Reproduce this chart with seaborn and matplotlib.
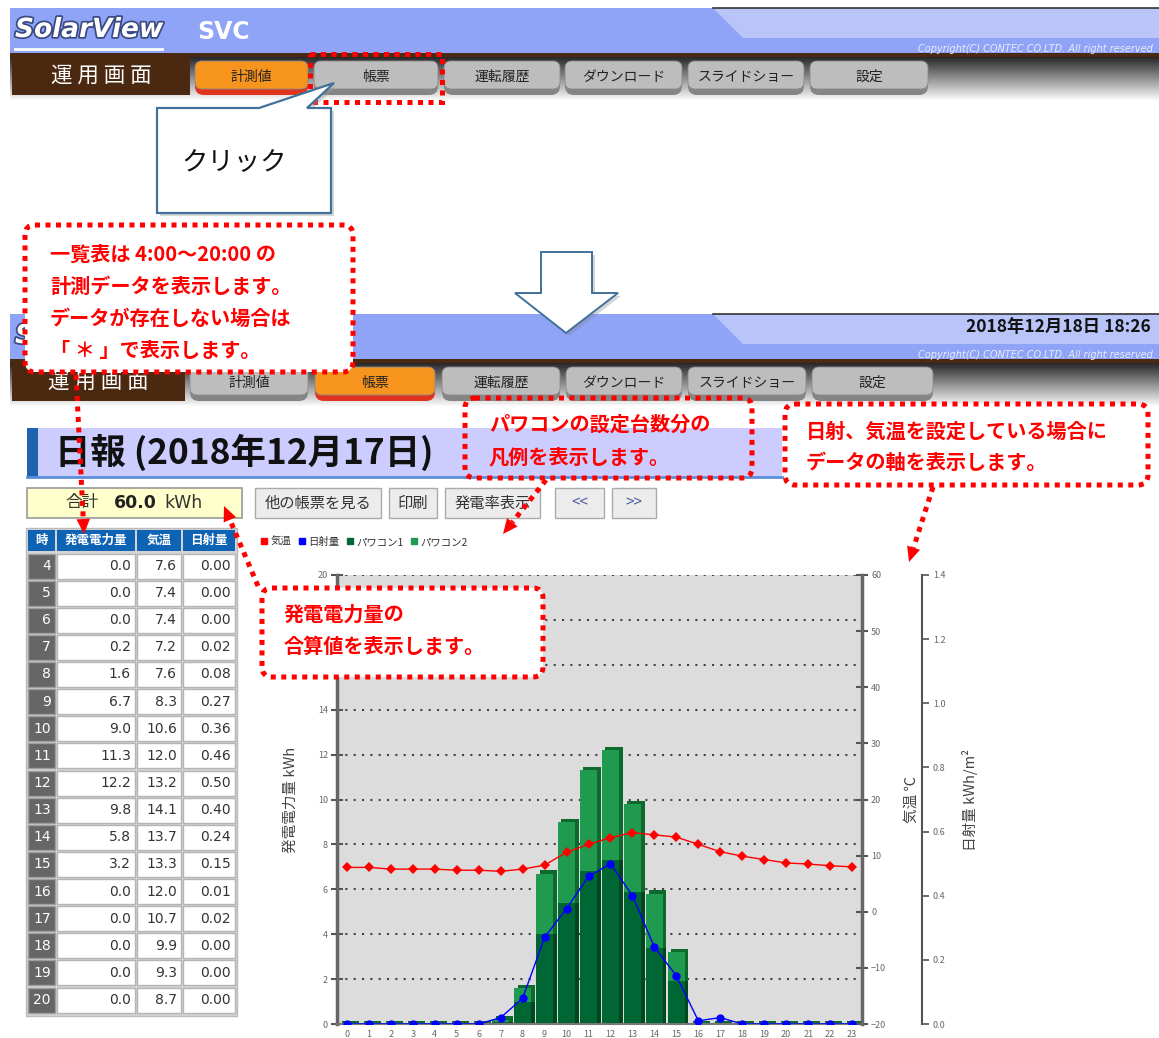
import numpy as np
import pandas as pd
import matplotlib.pyplot as plt
import seaborn as sns
import matplotlib.patheffects as pe
from matplotlib.patches import Rectangle, FancyBboxPatch, Polygon
from matplotlib.lines import Line2D

plt.rcParams['font.family'] = ['Noto Sans CJK JP', 'DejaVu Sans']

# ---- データ (0時〜23時) ----
hours = list(range(24))
power_total = [0.0, 0.0, 0.0, 0.0, 0.0, 0.0, 0.0, 0.2, 1.6, 6.7, 9.0, 11.3,
               12.2, 9.8, 5.8, 3.2, 0.0, 0.0, 0.0, 0.0, 0.0, 0.0, 0.0, 0.0]
power_pc1 = [0.0, 0.0, 0.0, 0.0, 0.0, 0.0, 0.0, 0.1, 1.0, 4.0, 5.4, 6.8,
             7.3, 5.9, 3.4, 1.9, 0.0, 0.0, 0.0, 0.0, 0.0, 0.0, 0.0, 0.0]
temperature = [7.9, 7.9, 7.6, 7.6, 7.6, 7.4, 7.4, 7.2, 7.6, 8.3, 10.6, 12.0,
               13.2, 14.1, 13.7, 13.3, 12.0, 10.7, 9.9, 9.3, 8.7, 8.5, 8.2, 8.0]
irradiance = [0.00, 0.00, 0.00, 0.00, 0.00, 0.00, 0.00, 0.02, 0.08, 0.27, 0.36, 0.46,
              0.50, 0.40, 0.24, 0.15, 0.01, 0.02, 0.00, 0.00, 0.00, 0.00, 0.00, 0.00]
total_kwh = 60.0

# 一覧表は 4:00〜20:00
table_start, table_end = 4, 20

legend_labels = ['気温', '日射量', 'パワコン1', 'パワコン2']
C_TEMP, C_SOLAR, C_PC1, C_PC2 = '#ff0000', '#0000ff', '#006633', '#1f9a4e'

W, H = 1159, 1038
fig = plt.figure(figsize=(W / 100, H / 100), dpi=100)
fig.patch.set_facecolor('white')


def px_axes(x0, y0, x1, y1):
    return [x0 / W, 1 - y1 / H, (x1 - x0) / W, (y1 - y0) / H]


def pixel_layer(z):
    a = fig.add_axes([0, 0, 1, 1], zorder=z)
    a.set_xlim(0, W)
    a.set_ylim(H, 0)
    a.axis('off')
    a.patch.set_visible(False)
    return a


bg = pixel_layer(0)
fg = pixel_layer(10)

# ---- 画面ヘッダー ----
grad = np.linspace(0, 1, 60).reshape(-1, 1)


def header(y0, logo, date_text=None, active=0, tab_x=None, box_x1=190):
    bg.add_patch(Rectangle((10, y0), W - 10, 45, fc='#8fa3f7', ec='none'))
    bg.add_patch(Polygon([(713, y0), (W, y0), (W, y0 + 30), (743, y0 + 30)],
                         fc='#b9c5f8', ec='none'))
    bg.plot([713, W], [y0, y0], color='#333', lw=1.2)
    t = bg.text(15, y0 + 22, logo, color='white', fontsize=19,
                fontweight='bold', style='italic', family='DejaVu Sans', va='center')
    t.set_path_effects([pe.withStroke(linewidth=2.5, foreground='#3a4a80')])
    if logo != 'S':
        bg.plot([15, 162], [y0 + 41, y0 + 41], color='white', lw=2)
        bg.text(197, y0 + 24, 'SVC', color='white', fontsize=17, fontweight='bold',
                family='DejaVu Sans', va='center')
    bg.text(1156, y0 + 41, 'Copyright(C) CONTEC CO.LTD. All right reserved.',
            color='#e8ecff', fontsize=7, style='italic', family='DejaVu Sans',
            ha='right', va='center')
    if date_text:
        bg.text(1151, y0 + 13, date_text, fontsize=12.5, fontweight='bold',
                ha='right', va='center', color='#111')
    # 茶色の帯とグラデーション
    bg.imshow(np.dstack([0.12 + 0.88 * grad] * 3), extent=(10, W, y0 + 93, y0 + 47),
              aspect='auto', zorder=1)
    bg.add_patch(Rectangle((10, y0 + 45), W - 10, 4, fc='#4a2a12', ec='none', zorder=2))
    bg.add_patch(Rectangle((12, y0 + 49), box_x1 - 12, 38, fc='#4b2911', ec='none', zorder=2))
    bg.text((12 + box_x1) / 2, y0 + 68, '運 用 画 面', color='white', fontsize=15.5,
            ha='center', va='center', zorder=3)
    names = ['計測値', '帳票', '運転履歴', 'ダウンロード', 'スライドショー', '設定']
    for i, (nm, (x0, x1)) in enumerate(zip(names, tab_x)):
        on = i == active
        face = '#f7941d' if on else '#bdbdbd'
        low = '#e0321c' if on else '#858585'
        bg.add_patch(FancyBboxPatch((x0 + 2, y0 + 54), x1 - x0 - 4, 33,
                                    boxstyle='round,pad=0,rounding_size=9',
                                    fc=low, ec='none', zorder=2))
        bg.add_patch(FancyBboxPatch((x0 + 2, y0 + 53), x1 - x0 - 4, 28,
                                    boxstyle='round,pad=0,rounding_size=7',
                                    fc=face, ec='#8a8a8a', lw=0.6, zorder=2))
        bg.text((x0 + x1) / 2, y0 + 69, nm, fontsize=10, ha='center', va='center',
                color='#222', zorder=3)


header(8, 'SolarView', active=0,
       tab_x=[(193, 310), (312, 440), (442, 562), (563, 684), (686, 806), (808, 930)])
header(314, 'S', date_text='2018年12月18日 18:26', active=1, box_x1=185,
       tab_x=[(188, 310), (313, 437), (440, 562), (564, 684), (686, 808), (810, 935)])

# ---- タイトル・ボタン ----
bg.add_patch(Rectangle((27, 428), 755, 49, fc='#ccccff', ec='none'))
bg.add_patch(Rectangle((27, 428), 11, 49, fc='#1f63b0', ec='none'))
bg.plot([27, 782], [477, 477], color='#5b8ed6', lw=2)
bg.text(55, 452, '日報 (2018年12月17日)', fontsize=25.5, fontweight='bold', va='center', color='#111')

bg.add_patch(Rectangle((27, 488), 215, 30, fc='#ffffcc', ec='#9a9a9a', lw=1.2))
bg.text(82, 503, '合計', fontsize=12, ha='center', va='center', color='#333')
bg.text(114, 503, f'{total_kwh:.1f}', fontsize=12.5, fontweight='bold', va='center',
        color='#222', family='DejaVu Sans')
bg.text(164, 503, 'kWh', fontsize=12.5, va='center', color='#333', family='DejaVu Sans')
for lab, x0, x1, col in [('他の帳票を見る', 255, 381, '#333'), ('印刷', 389, 437, '#333'),
                         ('発電率表示', 445, 540, '#333'), ('<<', 555, 604, '#5060a0'),
                         ('>>', 612, 656, '#5060a0')]:
    bg.add_patch(Rectangle((x0, 488), x1 - x0, 30, fc='#ececec', ec='#ababab', lw=1))
    bg.text((x0 + x1) / 2, 503, lab, fontsize=11, ha='center', va='center', color=col)

# ---- 一覧表 ----
bg.add_patch(Rectangle((26, 528), 211, 488, fc='#d4d4d4', ec='#bbbbbb', lw=1))
cols = [(28, 55), (57, 135), (137, 181), (183, 235)]
for (x0, x1), lab in zip(cols, ['時', '発電電力量', '気温', '日射量']):
    bg.add_patch(Rectangle((x0, 530), x1 - x0, 21, fc='#0f63b5', ec='none'))
    bg.text((x0 + x1) / 2, 540.5, lab, fontsize=9, fontweight='bold', color='white',
            ha='center', va='center')
for i, hr in enumerate(range(table_start, table_end + 1)):
    yc = 566 + i * 27.125
    vals = [str(hr), f'{power_total[hr]:.1f}', f'{temperature[hr]:.1f}', f'{irradiance[hr]:.2f}']
    for j, ((x0, x1), v) in enumerate(zip(cols, vals)):
        bg.add_patch(Rectangle((x0, yc - 12.5), x1 - x0, 25,
                               fc='#666666' if j == 0 else 'white',
                               ec='#9e9e9e' if j == 0 else '#b5b5b5', lw=1))
        bg.text(x1 - 4, yc, v, fontsize=10, ha='right', va='center',
                color='white' if j == 0 else '#333', family='DejaVu Sans')

# ---- グラフ ----
df = pd.DataFrame({'hour': hours, 'total': power_total, 'pc1': power_pc1,
                   'temp': temperature, 'solar': irradiance})
df['hour_side'] = df['hour'] + 0.16
df['total_top'] = df['total'] + 0.15

ax = fig.add_axes(px_axes(337, 575, 862, 1024), zorder=1)
ax.set_facecolor('#dcdcdc')
bar_kw = dict(native_scale=True, saturation=1, width=0.78, errorbar=None, ax=ax)
sns.barplot(data=df, x='hour_side', y='total_top', color='#0b6a2c', **bar_kw)
sns.barplot(data=df, x='hour', y='total', color=C_PC2, **bar_kw)
sns.barplot(data=df, x='hour_side', y='pc1', color='#00461f', **bar_kw)
sns.barplot(data=df, x='hour', y='pc1', color=C_PC1, **bar_kw)

ax2 = ax.twinx()
ax2.set_zorder(2)
sns.lineplot(data=df, x='hour', y='temp', ax=ax2, color=C_TEMP, lw=1,
             marker='D', markersize=5, markeredgewidth=0)
ax3 = ax.twinx()
ax3.set_zorder(3)
sns.lineplot(data=df, x='hour', y='solar', ax=ax3, color=C_SOLAR, lw=1,
             marker='o', markersize=6, markeredgewidth=0)

ax.set_xlim(-0.45, 23.45)
ax.set_ylim(0, 20)
kwh_ticks = list(range(0, 21, 2))
ax.set_yticks(kwh_ticks)
# 16, 18 は吹き出しに隠れている
ax.set_yticklabels(['' if v in (16, 18) else str(v) for v in kwh_ticks])
ax.set_xticks(hours)
ax.set_xticklabels([str(h) for h in hours])
ax2.set_ylim(-20, 60)
ax2.set_yticks(range(-20, 61, 10))
ax3.set_ylim(0, 1.4)
ax3.set_yticks(np.arange(0, 1.41, 0.2))
ax3.set_yticklabels([f'{v:.1f}' for v in np.arange(0, 1.41, 0.2)])

ax.yaxis.grid(True, linestyle=(0, (1, 3)), color='#444', lw=1.5)
ax.xaxis.grid(False)
ax.set_axisbelow(True)

for s in ['top', 'right']:
    ax.spines[s].set_visible(False)
ax.spines['left'].set(color='#666', lw=2.5)
ax.spines['bottom'].set(color='#777', lw=1.5)
for s in ['top', 'left', 'bottom']:
    ax2.spines[s].set_visible(False)
    ax3.spines[s].set_visible(False)
ax2.spines['right'].set(color='#666', lw=2.5)
ax3.spines['right'].set(color='#555', lw=1.5)
ax3.spines['right'].set_position(('outward', 43))

tick_kw = dict(labelsize=6.5, labelcolor='#666', colors='#555')
ax.tick_params(axis='y', direction='inout', length=9, width=1.5, pad=2, **tick_kw)
ax.tick_params(axis='x', length=0, pad=4, **tick_kw)
ax2.tick_params(axis='y', direction='inout', length=9, width=1.5, pad=2, **tick_kw)
ax3.tick_params(axis='y', direction='out', length=5, width=1.2, pad=3, **tick_kw)

lab_kw = dict(fontsize=10.5, color='#444')
ax.set_xlabel('')
ax.set_ylabel('発電電力量 kWh', **lab_kw)
ax.yaxis.set_label_coords(-0.074, 0.5)
ax2.set_ylabel('気温 ℃', **lab_kw)
ax2.yaxis.set_label_coords(1.082, 0.5)
ax3.set_ylabel('日射量 kWh/m²', **lab_kw)
ax3.yaxis.set_label_coords(1.19, 0.5)

handles = [Line2D([], [], ls='none', marker='s', markersize=5, color=c)
           for c in [C_TEMP, C_SOLAR, C_PC1, C_PC2]]
ax.legend(handles, legend_labels, loc='center left', bbox_to_anchor=(-0.152, 1.0735),
          ncol=4, frameon=False, fontsize=7.5, handlelength=0.6, handletextpad=0.3,
          columnspacing=0.7, labelcolor='#333', borderaxespad=0)

# ---- 吹き出し・注釈 ----
RED = '#ff0000'
DOT = (0, (1, 1.1))


def dotted_box(x0, y0, x1, y1, fill=True, r=10):
    fg.add_patch(FancyBboxPatch((x0, y0), x1 - x0, y1 - y0,
                                boxstyle=f'round,pad=0,rounding_size={r}',
                                fc='white' if fill else 'none', ec=RED, lw=3.6, ls=DOT))


def dotted_arrow(p0, p1, head=15):
    (x0, y0), (x1, y1) = p0, p1
    d = np.hypot(x1 - x0, y1 - y0)
    ux, uy = (x1 - x0) / d, (y1 - y0) / d
    bx, by = x1 - ux * head, y1 - uy * head
    fg.plot([x0, bx], [y0, by], color=RED, lw=3.6, ls=DOT, dash_capstyle='butt')
    nx, ny = -uy * head * 0.45, ux * head * 0.45
    fg.add_patch(Polygon([(x1, y1), (bx + nx, by + ny), (bx - nx, by - ny)], fc=RED, ec='none'))


def red_lines(x, ys, lines):
    for y, s in zip(ys, lines):
        fg.text(x, y, s, color=RED, fontsize=14.5, fontweight='bold', va='center')


# 帳票タブの枠
fg.add_patch(Rectangle((310, 54), 132, 48, fc='none', ec=RED, lw=3.6, ls=DOT))

# クリック吹き出し
click = [(157, 108), (259, 108), (334, 83), (307, 108), (331, 108), (331, 213), (157, 213)]
fg.add_patch(Polygon([(x + 3, y + 3) for x, y in click], fc='#999999', alpha=0.4, ec='none'))
fg.add_patch(Polygon(click, fc='white', ec='#41719c', lw=1.6))
fg.text(234, 163, 'クリック', fontsize=19, ha='center', va='center', color='#111')

# 下向き矢印
down = [(541, 252), (592, 252), (592, 293), (618, 293), (566, 333), (515, 293), (541, 293)]
fg.add_patch(Polygon([(x + 3, y + 3) for x, y in down], fc='#888888', alpha=0.35, ec='none'))
fg.add_patch(Polygon(down, fc='white', ec='#41719c', lw=1.4))

dotted_box(25, 225, 353, 372)
red_lines(50, [254, 286, 318, 350],
          ['一覧表は 4:00～20:00 の', '計測データを表示します。',
           'データが存在しない場合は', '「 ＊ 」で表示します。'])
dotted_arrow((76, 375), (84, 534))

dotted_box(465, 398, 752, 478, fill=False)
red_lines(489, [424, 457], ['パワコンの設定台数分の', '凡例を表示します。'])
dotted_arrow((546, 480), (503, 534))

dotted_box(785, 404, 1148, 485)
red_lines(806, [431, 462], ['日射、気温を設定している場合に', 'データの軸を表示します。'])
dotted_arrow((933, 487), (909, 562))

dotted_box(262, 588, 543, 677)
red_lines(284, [614, 646], ['発電電力量の', '合算値を表示します。'])
dotted_arrow((258, 586), (224, 506))

fig.savefig('out.png', dpi=100)
